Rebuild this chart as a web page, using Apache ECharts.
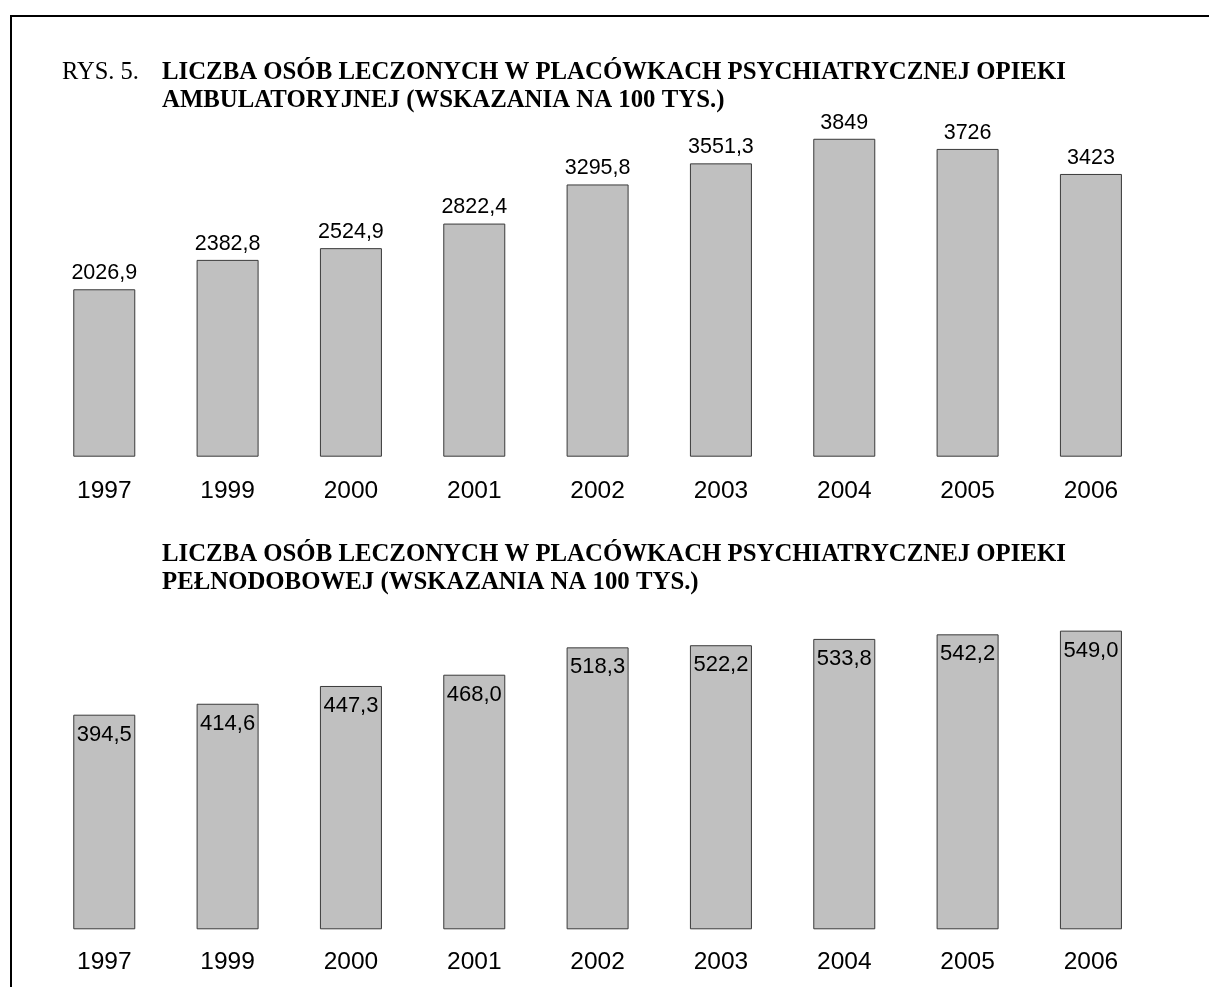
<!DOCTYPE html>
<html>
<head>
<meta charset="utf-8">
<script src="https://cdn.jsdelivr.net/npm/echarts@6/dist/echarts.min.js"></script>
<style>html,body{margin:0;padding:0;background:#fff;}#c{width:1209px;height:987px;}</style>
</head>
<body>
<div id="c"></div>
<script>
const years = ['1997','1999','2000','2001','2002','2003','2004','2005','2006'];
const ambulatoryValues = [2026.9, 2382.8, 2524.9, 2822.4, 3295.8, 3551.3, 3849, 3726, 3423];
const ambulatoryLabels = ['2026,9','2382,8','2524,9','2822,4','3295,8','3551,3','3849','3726','3423'];
const inpatientValues = [394.5, 414.6, 447.3, 468.0, 518.3, 522.2, 533.8, 542.2, 549.0];
const inpatientLabels = ['394,5','414,6','447,3','468,0','518,3','522,2','533,8','542,2','549,0'];
const figLabel = 'RYS. 5.';
const title1 = ['LICZBA OSÓB LECZONYCH W PLACÓWKACH PSYCHIATRYCZNEJ OPIEKI', 'AMBULATORYJNEJ (WSKAZANIA NA 100 TYS.)'];
const title2 = ['LICZBA OSÓB LECZONYCH W PLACÓWKACH PSYCHIATRYCZNEJ OPIEKI', 'PEŁNODOBOWEJ (WSKAZANIA NA 100 TYS.)'];

const chart = echarts.init(document.getElementById('c'), null, {renderer: 'canvas'});
const serif = '"Liberation Serif", "Times New Roman", serif';
const sans = '"Liberation Sans", Arial, sans-serif';
const barStyle = {color: '#c0c0c0', borderColor: '#3a3a3a', borderWidth: 1};
const catAxis = (gi, m) => ({
  type: 'category', gridIndex: gi, data: years,
  axisLine: {show: false}, axisTick: {show: false},
  axisLabel: {color: '#000', fontFamily: sans, fontSize: 24.5, margin: m}
});
const valAxis = (gi, max) => ({
  type: 'value', gridIndex: gi, min: 0, max: max,
  show: false, splitLine: {show: false}
});

chart.setOption({
  animation: false,
  backgroundColor: '#fff',
  grid: [
    {left: 42.6, width: 1110, top: 126.3, height: 330.4},
    {left: 42.6, width: 1110, top: 602.9, height: 326.4}
  ],
  xAxis: [catAxis(0, 22), catAxis(1, 20)],
  yAxis: [valAxis(0, 4000), valAxis(1, 600)],
  series: [
    {
      type: 'bar', xAxisIndex: 0, yAxisIndex: 0, data: ambulatoryValues,
      barWidth: 62, itemStyle: barStyle,
      label: {show: true, position: 'top', distance: 5, color: '#000', fontFamily: sans, fontSize: 21.5,
        formatter: p => ambulatoryLabels[p.dataIndex]}
    },
    {
      type: 'bar', xAxisIndex: 1, yAxisIndex: 1, data: inpatientValues,
      barWidth: 62, itemStyle: barStyle,
      label: {show: true, position: 'insideTop', distance: 9, color: '#000', fontFamily: sans, fontSize: 22,
        formatter: p => inpatientLabels[p.dataIndex]}
    }
  ],
  graphic: [
    {type: 'line', shape: {x1: 10, y1: 16, x2: 1209, y2: 16}, style: {stroke: '#000', lineWidth: 2}},
    {type: 'line', shape: {x1: 11, y1: 15, x2: 11, y2: 987}, style: {stroke: '#000', lineWidth: 2}},
    {type: 'text', left: 62, top: 60, style: {text: figLabel, font: '24.5px ' + serif, fill: '#000'}},
    {type: 'text', left: 162, top: 60, style: {text: title1[0], font: 'bold 24.8px ' + serif, fill: '#000'}},
    {type: 'text', left: 162, top: 88, style: {text: title1[1], font: 'bold 24.8px ' + serif, fill: '#000'}},
    {type: 'text', left: 162, top: 542, style: {text: title2[0], font: 'bold 24.8px ' + serif, fill: '#000'}},
    {type: 'text', left: 162, top: 570, style: {text: title2[1], font: 'bold 24.8px ' + serif, fill: '#000'}}
  ]
});
</script>
</body>
</html>
